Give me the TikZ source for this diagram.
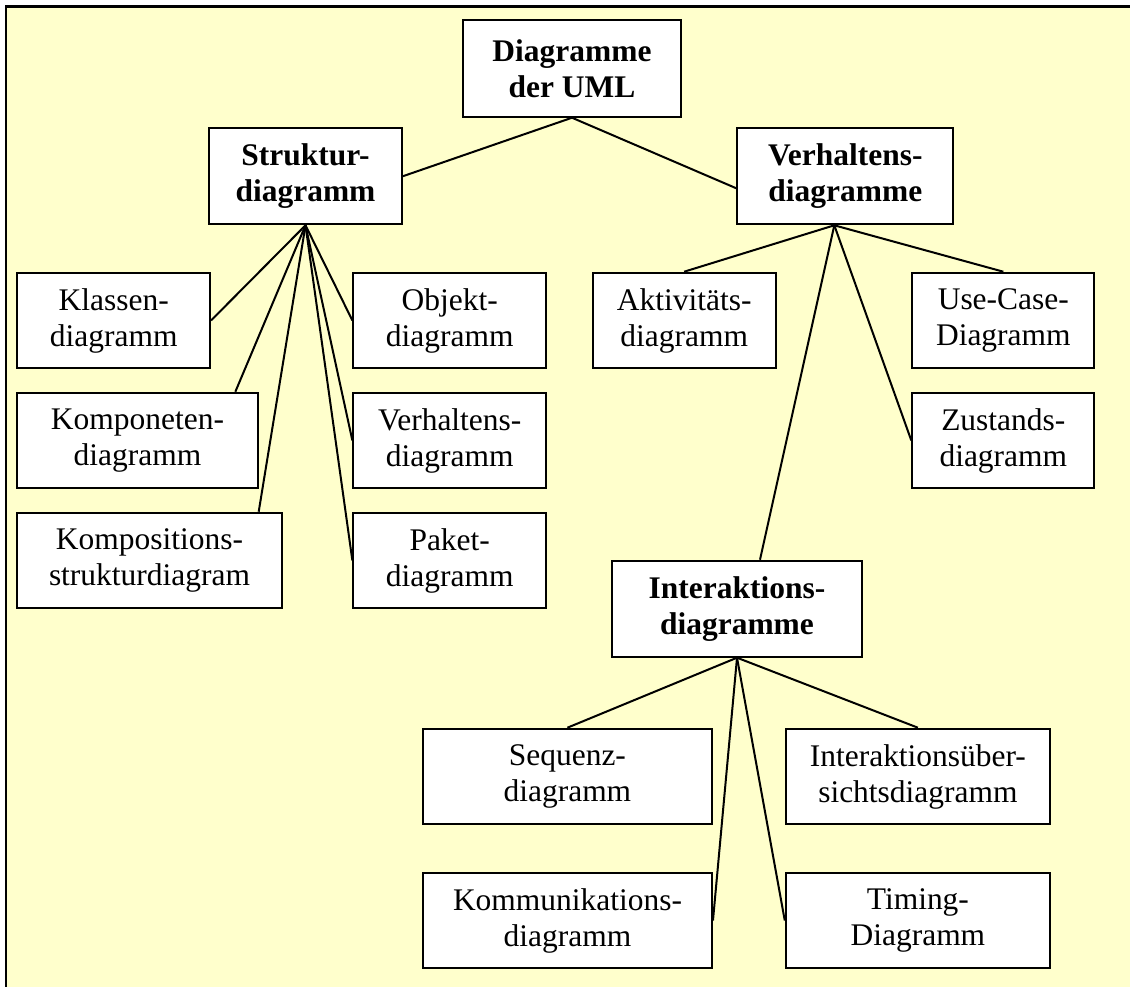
\documentclass[tikz,border=0pt]{standalone}
\usepackage{fontspec}
\setmainfont{Liberation Serif}
\definecolor{paper}{HTML}{FFFFCC}
\begin{document}
\begin{tikzpicture}[x=0.75pt,y=-0.75pt,
  line width=1.5pt,
  box/.style={draw=black,fill=white,inner sep=0pt,align=center,
    minimum height=71.7pt,
    execute at begin node={\rule{0pt}{21.7pt}},
    font=\fontsize{23.6pt}{27pt}\selectfont},
  boldbox/.style={box,minimum height=72pt,
    font=\fontsize{23.6pt}{27pt}\selectfont\bfseries},
  link/.style={draw=black,line width=1.5pt}]
\useasboundingbox (0,0) rectangle (1130,987);
\fill[white] (0,0) rectangle (1130,987);
% page frame
\fill[paper] (6,6.7) rectangle (1130,987);
\draw[line width=1.8pt] (6,987) -- (6,6.7) -- (1130,6.7);

% top levels
\node[boldbox,minimum width=163pt,minimum height=72.5pt] (uml) at (572,68.4) {Diagramme\\der UML};
\node[boldbox,minimum width=144.3pt] (struk) at (305.5,176.3) {Struktur-\\diagramm};
\node[boldbox,minimum width=162pt] (verh) at (845.3,176.3) {Verhaltens-\\diagramme};

% structure diagrams
\node[box,minimum width=144.5pt] (klassen) at (113.7,320.5) {Klassen-\\diagramm};
\node[box,minimum width=180.3pt] (kompon) at (137.5,440.5) {Komponeten-\\diagramm};
\node[box,minimum width=198.3pt] (kompos) at (149.5,560.5) {Kompositions-\\strukturdiagram};
\node[box,minimum width=144.5pt] (objekt) at (449.7,320.5) {Objekt-\\diagramm};
\node[box,minimum width=144.5pt] (verhd) at (449.7,440.5) {Verhaltens-\\diagramm};
\node[box,minimum width=144.5pt] (paket) at (449.7,560.5) {Paket-\\diagramm};

% behaviour diagrams
\node[box,minimum width=137.3pt] (akt) at (684.2,320.5) {Aktivitäts-\\diagramm};
\node[box,minimum width=136.5pt] (usecase) at (1003.3,320.5) {Use-Case-\\Diagramm};
\node[box,minimum width=136.5pt] (zust) at (1003.3,440.5) {Zustands-\\diagramm};
\node[boldbox,minimum width=187.5pt] (inter) at (737,608.7) {Interaktions-\\diagramme};

% interaction diagrams
\node[box,minimum width=216.5pt] (seq) at (567.4,776.5) {Sequenz-\\diagramm};
\node[box,minimum width=198.2pt] (ueber) at (917.9,776.5) {Interaktionsüber-\\sichtsdiagramm};
\node[box,minimum width=216.7pt] (komm) at (567.5,920.5) {Kommunikations-\\diagramm};
\node[box,minimum width=198.2pt] (timing) at (917.9,920.5) {Timing-\\Diagramm};

% connectors
\coordinate (vj) at ([xshift=-8.25pt]verh.south);
\draw[link] (uml.south) -- (struk.east);
\draw[link] (uml.south) -- ([yshift=-9pt]verh.west);

\draw[link] (struk.south) -- (klassen.east);
\draw[link] (struk.south) -- ([xshift=-17.5pt]kompon.north east);
\draw[link] (struk.south) -- ([xshift=-18pt]kompos.north east);
\draw[link] (struk.south) -- (objekt.west);
\draw[link] (struk.south) -- (verhd.west);
\draw[link] (struk.south) -- (paket.west);

\draw[link] (vj) -- (akt.north);
\draw[link] (vj) -- (usecase.north);
\draw[link] (vj) -- (zust.west);
\draw[link] (vj) -- ([xshift=17.25pt]inter.north);

\draw[link] (inter.south) -- (seq.north);
\draw[link] (inter.south) -- (ueber.north);
\draw[link] (inter.south) -- (komm.east);
\draw[link] (inter.south) -- (timing.west);
\end{tikzpicture}
\end{document}
